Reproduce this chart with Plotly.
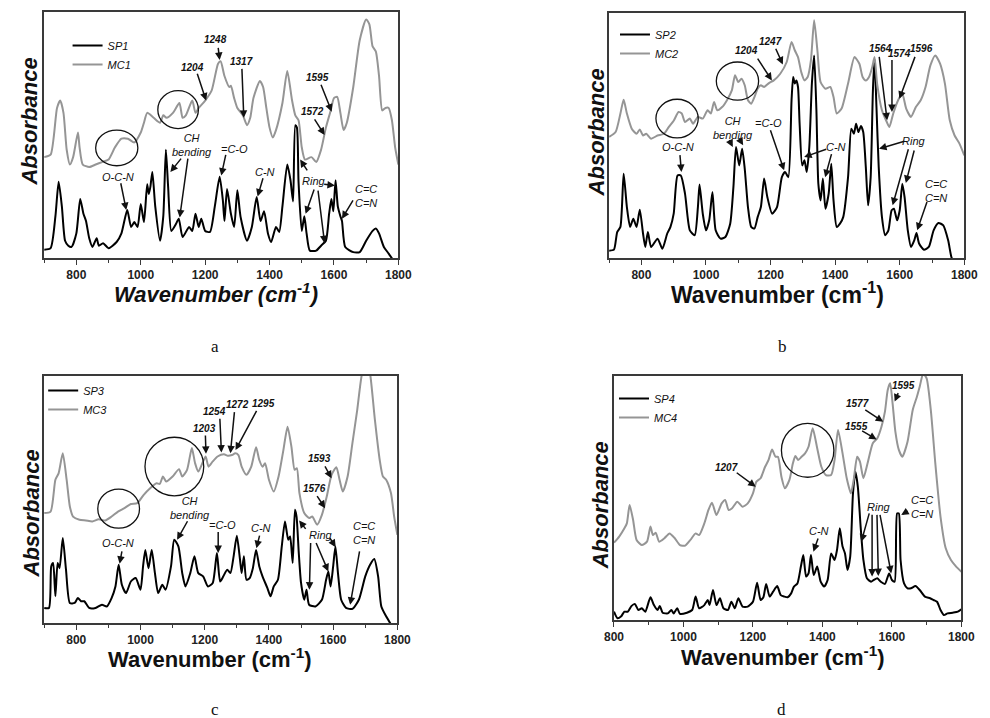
import plotly.graph_objects as go

# ---------------- DATA ----------------
# Panel a
wn_sp1 = [700, 720, 735, 745, 755, 765, 775, 785, 800, 812, 822, 830, 840, 850, 863, 870, 883, 900, 925, 940,
          958, 970, 980, 990, 1000, 1010, 1020, 1025, 1030, 1036, 1045, 1060, 1070, 1078, 1085, 1095, 1110, 1118,
          1130, 1150, 1160, 1170, 1180, 1188, 1200, 1215, 1230, 1245, 1255, 1260, 1268, 1280, 1290, 1300, 1310,
          1330, 1345, 1360, 1372, 1383, 1395, 1405, 1420, 1430, 1440, 1455, 1465, 1473, 1480, 1485, 1490, 1500,
          1508, 1515, 1525, 1545, 1560, 1575, 1585, 1592, 1598, 1605, 1612, 1620, 1625, 1635, 1660, 1680, 1700,
          1720, 1730, 1740, 1755, 1770, 1782]
ab_sp1 = [3.4, 4, 17, 31, 21, 7, 5, 4.5, 10, 24, 18, 15, 8, 4.5, 8, 5, 6, 4, 6.5, 10,
          19.5, 12.6, 14.6, 12.6, 22, 14.6, 30, 26, 29, 35, 21, 7, 17, 44, 29, 11, 14, 16,
          8.5, 12.6, 11, 18, 12.6, 16, 11, 10.6, 21, 33, 23.4, 15, 28, 18, 12.6, 27.5, 16.7,
          7, 12.6, 24.8, 15, 19, 10, 6.5, 12.6, 10.6, 21, 38, 31.6, 23, 54, 53, 31, 11,
          17, 10, 3, 3, 5, 7, 18, 24, 19, 31.6, 21, 17, 15, 4.5, 2.4, 2.4, 7,
          11, 12, 10, 4.5, 1.8, -0.5]
wn_mc1 = [700, 720, 740, 750, 760, 770, 780, 790, 805, 810, 820, 840, 860, 880, 900, 920, 940, 960, 980, 1000,
          1010, 1020, 1040, 1060, 1070, 1080, 1100, 1120, 1130, 1140, 1160, 1170, 1180, 1200, 1220, 1240, 1248,
          1260, 1275, 1280, 1290, 1300, 1317, 1330, 1340, 1350, 1370, 1380, 1390, 1400, 1410, 1420, 1440, 1455,
          1470, 1480, 1490, 1500, 1510, 1530, 1545, 1560, 1575, 1590, 1600, 1610, 1620, 1630, 1640, 1660, 1680,
          1700, 1710, 1720, 1730, 1740, 1750, 1760, 1770, 1780, 1790, 1800]
ab_mc1 = [41, 42, 61, 64, 59, 44, 38, 41, 51, 45, 38, 37, 38, 39, 40, 45, 48.5, 48.5, 47, 51,
          55, 59, 57, 55, 58, 57, 59, 63, 57, 58, 64, 59, 61, 64, 68, 79, 80,
          74, 69.5, 70, 65, 61, 58, 54, 57, 65, 72, 69.5, 61, 53, 49, 52, 63, 76,
          64, 58, 56, 45, 40, 41, 39, 44, 53, 60, 65, 65.5, 59, 52, 55, 69.5, 88.5,
          97, 95, 86, 84, 74, 60, 61, 61, 56, 45, 38]

# Panel b
wn_sp2 = [700, 715, 725, 735, 745, 755, 765, 775, 785, 795, 805, 812, 820, 830, 850, 865, 880, 890, 900, 912,
          922, 935, 950, 965, 975, 980, 990, 1000, 1010, 1020, 1030, 1045, 1060, 1075, 1085, 1093, 1103, 1112,
          1120, 1130, 1140, 1150, 1160, 1170, 1180, 1190, 1205, 1220, 1235, 1245, 1255, 1265, 1270, 1275, 1280,
          1285, 1290, 1298, 1305, 1312, 1320, 1328, 1335, 1342, 1348, 1355, 1362, 1370, 1380, 1388, 1395, 1405,
          1415, 1425, 1440, 1450, 1458, 1465, 1472, 1480, 1487, 1495, 1502, 1510, 1517, 1522, 1528, 1535, 1545,
          1555, 1565, 1575, 1582, 1592, 1600, 1608, 1615, 1625, 1635, 1645, 1652, 1660, 1675, 1690, 1705, 1720,
          1735, 1750, 1760, 1768]
ab_sp2 = [3, 3.4, 10.6, 12.7, 34.4, 20.8, 12.7, 16, 12.7, 19.7, 10, 4.5, 10.6, 4.5, 7.9, 3.8, 10, 12.7, 18.1, 33.7,
          33.7, 26.3, 11.3, 9.3, 20.8, 30, 18.1, 11.3, 15.4, 26.9, 11.3, 7.9, 8.6, 14, 29, 45.3, 37.8, 44.6,
          36.5, 20.8, 12.7, 12, 16.7, 20.8, 32.4, 24.9, 18.1, 20.8, 33, 35.1, 33, 64.4, 73.9, 71.2, 72.5,
          69.8, 54.8, 37.8, 39.9, 35.1, 45.3, 71.2, 82.7, 60.3, 30.3, 23.5, 32.4, 20.1, 26.3, 38.5, 23.5, 12.7,
          14, 16.7, 33, 52.8, 50.7, 54.8, 51.4, 53.9, 51.4, 37.1, 21.5, 33, 68.4, 81.4, 61.6, 37.1, 16.7,
          9.3, 11.3, 19.5, 20.1, 15.4, 19.5, 30.3, 24.9, 11.3, 4.5, 7.2, 10.2, 5.9, 3.4, 4.5, 11.3, 14.3,
          13.3, 7.2, 0.4, -2]
wn_mc2 = [700, 720, 735, 745, 755, 770, 785, 795, 805, 815, 830, 850, 870, 885, 900, 915, 925, 935, 950, 960,
          975, 990, 1005, 1015, 1025, 1035, 1050, 1065, 1080, 1090, 1100, 1110, 1120, 1130, 1140, 1150, 1160,
          1170, 1180, 1195, 1210, 1230, 1250, 1265, 1275, 1285, 1295, 1305, 1315, 1325, 1335, 1345, 1355, 1370,
          1385, 1395, 1405, 1420, 1440, 1460, 1475, 1485, 1495, 1505, 1515, 1522, 1530, 1545, 1560, 1568, 1580,
          1595, 1608, 1620, 1635, 1650, 1665, 1680, 1695, 1710, 1725, 1740, 1755, 1770, 1785, 1800]
ab_mc2 = [49.4, 51.4, 59, 64.6, 59, 52.8, 50.7, 52.5, 50, 50.7, 48.7, 50, 50.7, 53.5, 56, 59.6, 59, 55.5, 56.9, 54.8,
          57.6, 56.9, 60.3, 59, 63.7, 60.3, 61.6, 64.4, 68.4, 74.6, 71.8, 73.2, 70.5, 64.4, 63, 65.7, 69.1,
          70.5, 69.8, 71.4, 72.5, 75.2, 80, 88.2, 84.8, 82, 75.9, 72.5, 73.9, 80.7, 97, 84.8, 71.8, 69.1,
          69.8, 65.7, 59, 61, 71.2, 82, 79.3, 73.9, 72.5, 73.9, 78, 82, 71.2, 60.3, 55.5, 53.5, 59,
          64.4, 67, 61, 57.6, 61.6, 64.4, 69.8, 78.6, 82.7, 79.3, 71.2, 56.2, 50, 46.7, 41.9]

# Panel c
wn_sp3 = [700, 715, 722, 728, 735, 742, 748, 758, 768, 780, 795, 805, 815, 825, 840, 860, 880, 895, 910, 922,
          932, 942, 955, 970, 985, 1000, 1008, 1015, 1025, 1035, 1045, 1055, 1068, 1078, 1095, 1105, 1118, 1130,
          1140, 1155, 1168, 1180, 1195, 1210, 1225, 1238, 1248, 1258, 1270, 1280, 1290, 1300, 1310, 1315, 1322,
          1330, 1340, 1350, 1360, 1370, 1380, 1395, 1405, 1415, 1428, 1440, 1450, 1460, 1466, 1474, 1481, 1486,
          1493, 1500, 1510, 1517, 1525, 1545, 1565, 1578, 1585, 1592, 1600, 1607, 1615, 1625, 1640, 1660, 1680,
          1700, 1715, 1728, 1740, 1750, 1765, 1782]
ab_sp3 = [6.1, 6.1, 22.9, 24.3, 10.8, 24.3, 22.2, 34.4, 21.6, 8.1, 8.1, 10.1, 8.8, 8.8, 6.1, 6.1, 7.4, 6.7, 10.1, 14.8,
          23.6, 15.5, 12.1, 16.8, 18.2, 13.5, 22.9, 29.6, 22.2, 29.6, 20.2, 12.1, 15.5, 13.5, 22.9, 33.7, 31, 20.2,
          14.8, 20.2, 27, 20.2, 18.9, 14.8, 16.2, 28.3, 16.8, 18.9, 21.6, 20.2, 27, 35.3, 25.6, 20.2, 27,
          17.5, 18.2, 22.2, 29.6, 22.9, 18.9, 14.2, 10.8, 14.8, 17.5, 31, 41.1, 33.7, 35, 24.3, 45.8, 43.1,
          28.3, 16.2, 9.4, 13.5, 7.4, 6.7, 9.4, 17.5, 20.9, 14.8, 22.9, 31, 20.2, 9.4, 6.1, 5.7, 9.4,
          18.9, 23.6, 25.9, 18.9, 6.7, 2.7, -1]
wn_mc3 = [700, 720, 735, 745, 758, 770, 780, 790, 810, 830, 850, 870, 890, 910, 930, 950, 970, 990, 1010, 1030,
          1050, 1060, 1070, 1080, 1100, 1120, 1130, 1145, 1160, 1170, 1180, 1195, 1203, 1212, 1225, 1240, 1260,
          1272, 1285, 1295, 1305, 1315, 1330, 1345, 1360, 1370, 1380, 1388, 1400, 1415, 1430, 1445, 1458, 1470,
          1480, 1487, 1495, 1510, 1525, 1535, 1550, 1565, 1580, 1595, 1610, 1620, 1630, 1645, 1660, 1675, 1690,
          1705, 1715, 1730, 1745, 1755, 1765, 1780, 1790, 1800]
ab_mc3 = [44.5, 45.1, 58, 60.6, 68.7, 58, 47.2, 43.1, 41.8, 41.5, 41.1, 42, 41.5, 43.1, 45.1, 46.5, 48.2, 48.5, 51.9, 54.6,
          56.6, 56.3, 59.3, 57.3, 59.3, 62.3, 59.3, 62, 70.8, 64.7, 61.3, 65.4, 67.4, 63.3, 65.4, 67.4, 68.3,
          67.7, 68, 68.7, 68, 63.3, 60, 63.3, 71.2, 66, 63.3, 64.7, 58, 53.2, 59.3, 70, 79.5, 71.4,
          62, 62.7, 52.6, 44.5, 42.5, 43.1, 39.8, 43.8, 51.2, 60, 63.1, 58, 53.2, 59.3, 72.8, 86.3, 101,
          106, 101, 82.2, 66, 59.3, 58, 52.6, 43.1, 35.7]

# Panel d
wn_sp4 = [800, 810, 820, 830, 840, 850, 860, 870, 880, 890, 905, 915, 925, 932, 940, 955, 965, 972, 982, 990,
          1010, 1025, 1035, 1045, 1060, 1070, 1075, 1085, 1095, 1105, 1115, 1128, 1138, 1148, 1158, 1170, 1185,
          1200, 1212, 1222, 1230, 1238, 1248, 1258, 1270, 1280, 1290, 1300, 1310, 1318, 1328, 1338, 1345, 1353,
          1360, 1367, 1375, 1385, 1395, 1405, 1415, 1425, 1435, 1442, 1450, 1458, 1465, 1472, 1480, 1488, 1495,
          1502, 1510, 1518, 1528, 1540, 1548, 1558, 1568, 1580, 1592, 1600, 1608, 1615, 1620, 1625, 1635, 1645,
          1655, 1668, 1680, 1695, 1710, 1720, 1730, 1740, 1750, 1760, 1775, 1790, 1800]
ab_sp4 = [3.4, 0.7, 1.4, 3.4, 3.4, 5.7, 6.6, 4.1, 4.8, 3.4, 9.3, 6.1, 4.1, 5.7, 3, 2.7, 4.1, 2.7, 4.8, 2.5,
          3, 4.1, 9.6, 4.8, 6.1, 8.2, 6.1, 12.3, 6.1, 8.9, 4.8, 4.1, 7.5, 4.8, 8.9, 5.5, 5.5,
          7.5, 15.3, 8.2, 9.3, 14.8, 9.6, 11.6, 13.9, 10.2, 9.6, 9.3, 10.9, 13.7, 15, 21.9, 26.6, 17.8,
          19.1, 26.6, 18.4, 21.9, 15.7, 13.7, 16.4, 27.3, 24.6, 28.7, 37.6, 30.1, 27.3, 20.5, 26, 51.9, 60.8,
          54.6, 38.3, 24.6, 17.1, 15.7, 16.4, 17.1, 15.7, 14.8, 19.1, 16.4, 15.7, 43.7, 43.7, 24.6, 15, 13,
          13, 13.9, 12.3, 9.6, 8.9, 8.2, 7.5, 4.1, 2, 2.7, 3, 3.4, 4.4]
wn_mc4 = [800, 815, 830, 837, 845, 855, 865, 880, 895, 905, 912, 920, 930, 945, 960, 975, 990, 1005, 1020, 1035,
          1045, 1060, 1072, 1082, 1095, 1110, 1120, 1130, 1140, 1155, 1170, 1185, 1200, 1210, 1222, 1235, 1245,
          1255, 1265, 1272, 1282, 1292, 1305, 1315, 1322, 1330, 1340, 1350, 1360, 1372, 1385, 1397, 1410, 1425,
          1435, 1445, 1458, 1470, 1482, 1490, 1500, 1508, 1518, 1530, 1545, 1558, 1570, 1580, 1588, 1595, 1602,
          1610, 1620, 1630, 1645, 1660, 1672, 1680, 1690, 1700, 1712, 1725, 1740, 1755, 1770, 1785, 1800]
ab_mc4 = [31.7, 34.2, 37.6, 39.6, 47.1, 41, 32.8, 30.7, 32.1, 38.3, 34.8, 35.8, 32.1, 33.5, 35.5, 33.5, 30.7, 30.5, 32.8, 35.5,
          34.8, 39.6, 45.1, 48.1, 43, 47.8, 49.2, 45.1, 45.8, 48.5, 46.4, 47.8, 51.9, 56.7, 58.1, 62.8, 65.6,
          69.9, 66.9, 66.9, 58.7, 54, 57.4, 64.2, 67.2, 65.6, 66.9, 68.3, 71, 78.6, 70.4, 62.8, 59.4, 59.4,
          65.6, 77.9, 68.3, 58.1, 51.9, 57.4, 66.9, 64.9, 58.1, 64.2, 72.4, 74.5, 79.2, 85.4, 94.3, 97, 88.8,
          77.2, 69.7, 66.9, 73.1, 86.1, 91.5, 95.6, 101, 99, 86.1, 64.2, 42.3, 29.4, 24.6, 21.9, 19.8]

panels = [
    dict(sp=("SP1", wn_sp1, ab_sp1), mc=("MC1", wn_mc1, ab_mc1), xr=[700, 1800]),
    dict(sp=("SP2", wn_sp2, ab_sp2), mc=("MC2", wn_mc2, ab_mc2), xr=[700, 1800]),
    dict(sp=("SP3", wn_sp3, ab_sp3), mc=("MC3", wn_mc3, ab_mc3), xr=[700, 1800]),
    dict(sp=("SP4", wn_sp4, ab_sp4), mc=("MC4", wn_mc4, ab_mc4), xr=[800, 1800]),
]
tick_vals = [800, 1000, 1200, 1400, 1600, 1800]
captions = ["a", "b", "c", "d"]

# Peak labels: (text, x, y) in data coordinates
labels = [
    [("<b>1248</b>", 1232, 89), ("<b>1204</b>", 1160, 77.5), ("<b>1317</b>", 1313, 80),
     ("<b>1595</b>", 1548, 73.5), ("<b>1572</b>", 1532, 59.5), ("CH<br>bending", 1160, 46),
     ("=C-O", 1290, 44.5), ("C-N", 1386, 35), ("O-C-N", 928, 33), ("Ring", 1537, 31.5),
     ("C=C<br>C=N", 1699, 25)],
    [("<b>1204</b>", 1125, 84.5), ("<b>1247</b>", 1201, 88.5), ("<b>1564</b>", 1541, 85.5),
     ("<b>1574</b>", 1598, 83.5), ("<b>1596</b>", 1666, 85.5), ("O-C-N", 912, 45.3),
     ("CH<br>bending", 1083, 53), ("=C-O", 1193, 55), ("C-N", 1402, 45.3), ("Ring", 1644, 47.8),
     ("C=C<br>C=N", 1711, 27.5)],
    [("<b>1203</b>", 1199, 78.8), ("<b>1254</b>", 1230, 85.6), ("<b>1272</b>", 1303, 88.3),
     ("<b>1295</b>", 1384, 88.9), ("<b>1593</b>", 1557, 66.7), ("<b>1576</b>", 1541, 54.6),
     ("CH<br>bending", 1154, 46.5), ("=C-O", 1255, 39.8), ("C-N", 1376, 38.4), ("O-C-N", 931, 32.3),
     ("Ring", 1562, 35.7), ("C=C<br>C=N", 1696, 36.4)],
    [("<b>1207</b>", 1125, 62.6), ("<b>1555</b>", 1498, 79.2), ("<b>1577</b>", 1500, 88.8),
     ("<b>1595</b>", 1633, 96.3), ("C-N", 1390, 36.6), ("Ring", 1563, 46.4), ("C=C<br>C=N", 1686, 46.4)],
]
# Arrows: (tail_x, tail_y, head_x, head_y)
arrows = [
    [(1240, 86, 1245, 80.5), (1174, 75.5, 1203, 64), (1314, 77.5, 1320, 57), (1558, 71, 1593, 59.5),
     (1537, 57, 1571, 50), (1129, 41, 1092, 35), (1147, 41, 1121, 16.5), (1265, 42.5, 1250, 33.5),
     (1381, 33, 1363, 25), (937, 31, 955, 19.5), (1520, 35, 1495, 40), (1540, 28.5, 1512, 18),
     (1550, 28, 1571, 6), (1565, 30, 1603, 29.5), (1662, 24, 1625, 16)],
    [(1157, 82, 1204, 72.5), (1214, 86, 1238, 79), (1536, 82.7, 1561, 56.2), (1576, 81.4, 1576, 59.6),
     (1649, 82.7, 1599, 65), (919, 42.6, 924, 35.1), (1070, 48.7, 1083, 45.3), (1100, 49.4, 1115, 46),
     (1198, 52.8, 1242, 35.8), (1377, 44.6, 1304, 41.2), (1390, 43, 1369, 33), (1619, 47.8, 1536, 44.6),
     (1628, 45, 1578, 21.5), (1646, 44.5, 1619, 30.6), (1686, 23.5, 1654, 11.3)],
    [(1202, 76.5, 1204, 68.5), (1247, 83.3, 1252, 69), (1293, 86, 1280, 68.7), (1364, 86.5, 1296, 70),
     (1572, 64, 1595, 58.6), (1547, 52, 1575, 46.5), (1149, 41.8, 1114, 33.7), (1242, 37.4, 1242, 28.3),
     (1372, 36, 1361, 30.3), (943, 29.6, 935, 24), (1518, 37.5, 1494, 41.5), (1530, 33, 1526, 13.5),
     (1545, 33, 1585, 20.9), (1587, 35, 1608, 30.7), (1683, 29.6, 1653, 7.4)],
    [(1149, 60.8, 1208, 54.6), (1510, 77.9, 1556, 74), (1519, 86.5, 1575, 81.3), (1620, 93.6, 1608, 89.5),
     (1389, 34, 1374, 28), (1536, 44.3, 1512, 32.1), (1543, 43.7, 1543, 17.8), (1557, 43.7, 1561, 18),
     (1565, 43.7, 1598, 19.1), (1650, 45, 1627, 43)],
]
# Highlight circles: (x0, y0, x1, y1)
circles = [
    [(860, 37.5, 991, 52), (1053, 52.6, 1179, 68)],
    [(845, 49, 976, 64.8), (1032, 64.4, 1163, 80)],
    [(867, 38.4, 997, 54.2), (1014, 51.5, 1197, 75.2)],
    [(1282, 58.5, 1433, 80.6)],
]

# ---------------- LAYOUT ----------------
W, H = 990, 718
# plot boxes in pixels: (left, top, right, bottom)
boxes = [(35, 12, 398, 258), (614, 13, 978, 258), (35, 376, 397, 623), (619, 376, 975, 620)]
legend_pos = [(59, 31), (620, 20), (34, 376), (619, 384)]
xtitle_pos = [(211, 293), (787, 293), (205, 658), (792, 656)]
ytitle_pos = [(20, 122), (601, 132), (22, 513), (605, 505)]
caption_pos = [(210, 346), (792, 346), (210, 709), (791, 709)]
xtitle_italic = [True, False, False, False]
xtitle_size = [22, 23, 22, 22]

FONT = "Liberation Sans, Arial, sans-serif"
BLACK = "#000000"
GRAY = "#959595"
FRAME = "#3a3a3a"

fig = go.Figure()
layout = dict(width=W, height=H, margin=dict(l=0, r=0, t=0, b=0),
              paper_bgcolor="white", plot_bgcolor="white", showlegend=True,
              font=dict(family=FONT, color="#111"))
annotations = []
shapes = []

for i, p in enumerate(panels):
    n = "" if i == 0 else str(i + 1)
    xa, ya = "x" + n, "y" + n
    lg = "legend" + n
    l, t, r, b = boxes[i]
    for (name, wx, wy), col in ((p["sp"], BLACK), (p["mc"], GRAY)):
        fig.add_trace(go.Scatter(x=wx, y=wy, mode="lines", name=name, xaxis=xa, yaxis=ya, legend=lg,
                                 line=dict(color=col, width=2, shape="spline", smoothing=0.6)))
    layout["xaxis" + n] = dict(domain=[l / W, r / W], anchor=ya, range=p["xr"], tickvals=tick_vals,
                               ticks="outside", ticklen=5, tickwidth=1.2, tickcolor=FRAME,
                               minor=dict(dtick=100, tick0=700, ticks="outside", ticklen=3, tickwidth=1, tickcolor=FRAME),
                               showline=True, mirror=True, linecolor=FRAME, linewidth=1.5,
                               showgrid=False, zeroline=False,
                               tickfont=dict(family=FONT, size=12, color="#222", weight="bold"))
    layout["yaxis" + n] = dict(domain=[1 - b / H, 1 - t / H], anchor=xa, range=[0, 100],
                               showticklabels=False, ticks="", showline=True, mirror=True,
                               linecolor=FRAME, linewidth=1.5, showgrid=False, zeroline=False)
    lx, ly = legend_pos[i]
    layout[lg] = dict(x=lx / W, y=1 - ly / H, xanchor="left", yanchor="top", bgcolor="rgba(0,0,0,0)",
                      font=dict(family=FONT, size=11, style="italic", color="#111"),
                      itemwidth=30, tracegroupgap=0)
    for text, tx, ty in labels[i]:
        fs = 10 if text.startswith("<b>") else 11
        annotations.append(dict(x=tx, y=ty, xref=xa, yref=ya, text="<i>" + text + "</i>", showarrow=False,
                                xanchor="center", yanchor="middle",
                                font=dict(family=FONT, size=fs, color="#111")))
    for ax_, ay_, hx, hy in arrows[i]:
        annotations.append(dict(x=hx, y=hy, ax=ax_, ay=ay_, xref=xa, yref=ya, axref=xa, ayref=ya,
                                text="", showarrow=True, arrowhead=2, arrowsize=1, arrowwidth=1.5,
                                arrowcolor="#111", standoff=0, startstandoff=0))
    for x0, y0, x1, y1 in circles[i]:
        shapes.append(dict(type="circle", xref=xa, yref=ya, x0=x0, y0=y0, x1=x1, y1=y1,
                           line=dict(color="#111", width=1.3)))
    # axis titles and captions
    xt = "Wavenumber (cm<sup>-1</sup>)"
    xt = "<b><i>" + xt + "</i></b>" if xtitle_italic[i] else "<b>" + xt + "</b>"
    px_, py_ = xtitle_pos[i]
    annotations.append(dict(x=px_ / W, y=1 - py_ / H, xref="paper", yref="paper", text=xt, showarrow=False,
                            xanchor="center", yanchor="middle",
                            font=dict(family=FONT, size=xtitle_size[i], color="#111")))
    px_, py_ = ytitle_pos[i]
    annotations.append(dict(x=px_ / W, y=1 - py_ / H, xref="paper", yref="paper",
                            text="<b><i>Absorbance</i></b>", textangle=-90, showarrow=False,
                            xanchor="center", yanchor="middle",
                            font=dict(family=FONT, size=22, color="#111")))
    px_, py_ = caption_pos[i]
    annotations.append(dict(x=px_ / W, y=1 - py_ / H, xref="paper", yref="paper", text=captions[i],
                            showarrow=False, xanchor="center", yanchor="middle",
                            font=dict(family="Liberation Serif, Times New Roman, serif",
                                      size=17, color="#111")))

layout["annotations"] = annotations
layout["shapes"] = shapes
fig.update_layout(**layout)
fig.write_html("out.html")
